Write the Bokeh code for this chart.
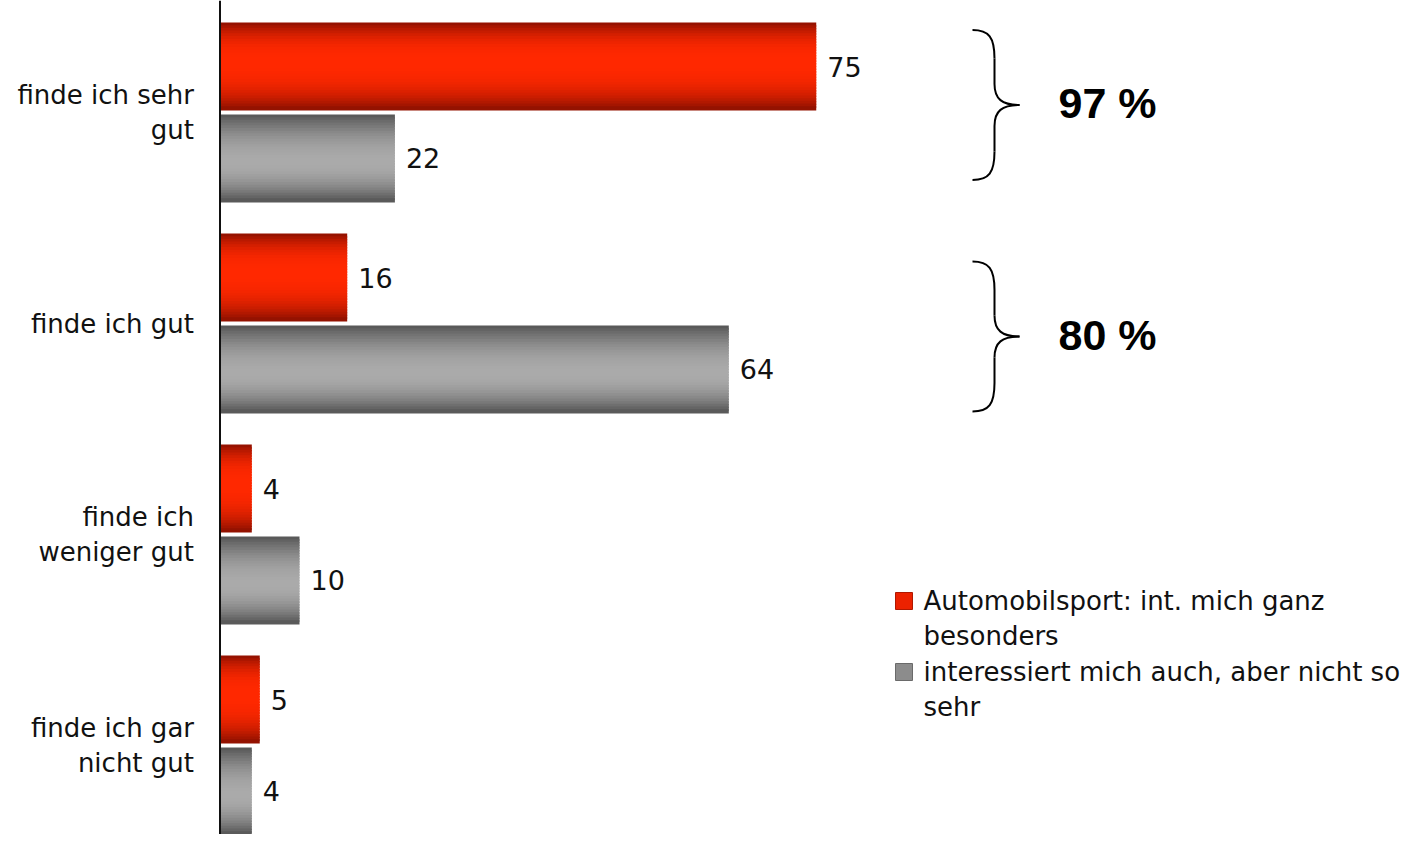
from bokeh.plotting import figure
from bokeh.models import Range1d, Span, ColumnDataSource
from bokeh.embed import file_html
from bokeh.resources import INLINE
from bokeh.core.properties import value

# ---------------- data ----------------
categories = ["finde ich sehr\ngut", "finde ich gut", "finde ich\nweniger gut", "finde ich gar\nnicht gut"]
series_names = ["Automobilsport: int. mich ganz\nbesonders", "interessiert mich auch, aber nicht so\nsehr"]
red_values = [75, 16, 4, 5]
gray_values = [22, 64, 10, 4]
brace_labels = ["97 %", "80 %"]

# ---------------- layout helpers ----------------
W, H = 1400, 834
PX_PER_UNIT = 7.95
X0_PAGE = 219.5      # pixel x of value 0
GROUP_PX = 211.0     # pixels between category groups
Y0_PAGE = 112.0      # pixel y of first group centre


def xd(px):
    return (px - X0_PAGE) / PX_PER_UNIT


def yd(py):
    return (py - Y0_PAGE) / GROUP_PX


p = figure(width=W, height=H,
           x_range=Range1d(xd(0), xd(W)),
           y_range=Range1d(yd(H), yd(0)),
           output_backend="svg", toolbar_location=None,
           min_border=0, min_border_left=0, min_border_right=0,
           min_border_top=0, min_border_bottom=0)
p.xaxis.visible = False
p.yaxis.visible = False
p.xgrid.visible = False
p.ygrid.visible = False
p.outline_line_color = None
p.background_fill_color = "white"
p.border_fill_color = "white"

BAR_H = 0.41
OFFSET = 0.218
N = 32


def mix(c1, c2, w):
    return "#%02x%02x%02x" % tuple(int(round(a + (b - a) * w)) for a, b in zip(c1, c2))


def strips(values, offset, dark, light, peak, expo):
    ys, rights, cols = [], [], []
    for i, v in enumerate(values):
        for k in range(N):
            t = (k + 0.5) / N
            d = (t - peak) / (peak if t < peak else 1 - peak)
            w = 1 - abs(d) ** expo
            ys.append(i + offset - BAR_H / 2 + t * BAR_H)
            rights.append(v)
            cols.append(mix(dark, light, w))
    return ColumnDataSource(dict(y=ys, right=rights, color=cols))


red_src = strips(red_values, -OFFSET, (140, 16, 0), (255, 40, 0), 0.45, 2.6)
gray_src = strips(gray_values, OFFSET, (84, 84, 84), (170, 170, 170), 0.55, 2.0)
for src in (red_src, gray_src):
    p.hbar(y="y", left=0, right="right", height=BAR_H / N * 1.6, fill_color="color",
           line_color=None, source=src)

# axis line
p.add_layout(Span(location=0, dimension="height", line_color="#111111", line_width=2))

# value labels
idx = list(range(len(categories)))
p.text(x=red_values, y=[i - OFFSET for i in idx], text=[str(v) for v in red_values],
       x_offset=11, text_baseline="middle", text_align="left",
       text_font=value("DejaVu Sans"), text_font_size="27px", text_color="#111111")
p.text(x=gray_values, y=[i + OFFSET for i in idx], text=[str(v) for v in gray_values],
       x_offset=11, text_baseline="middle", text_align="left",
       text_font=value("DejaVu Sans"), text_font_size="27px", text_color="#111111")

# category labels
p.text(x=[0] * len(categories), y=idx, text=categories, x_offset=-26,
       text_align="right", text_baseline="middle", text_line_height=1.15,
       text_font=value("DejaVu Sans"), text_font_size="26px", text_color="#111111")

# braces
brace_centres = [yd(104.5), yd(336.0)]
brace_half = 75.0 / GROUP_PX
bx0, bxs, bxt = xd(972), xd(994), xd(1019)
bez = dict(x0=[], y0=[], x1=[], y1=[], cx0=[], cy0=[], cx1=[], cy1=[])


def add_bez(a, c0, c1, b):
    bez["x0"].append(a[0]); bez["y0"].append(a[1])
    bez["cx0"].append(c0[0]); bez["cy0"].append(c0[1])
    bez["cx1"].append(c1[0]); bez["cy1"].append(c1[1])
    bez["x1"].append(b[0]); bez["y1"].append(b[1])


for yc in brace_centres:
    Hh = 2 * brace_half
    for sgn in (-1, 1):
        ya = yc + sgn * brace_half
        s1 = ya - sgn * 0.19 * Hh
        s2 = yc + sgn * 0.14 * Hh
        add_bez((bx0, ya), (bx0 + (bxs - bx0) * 0.75, ya), (bxs, ya - sgn * 0.05 * Hh), (bxs, s1))
        add_bez((bxs, s1), (bxs, s1), (bxs, s2), (bxs, s2))
        add_bez((bxs, s2), (bxs, yc + sgn * 0.04 * Hh), (bxs + (bxt - bxs) * 0.3, yc), (bxt, yc))

p.bezier(x0="x0", y0="y0", x1="x1", y1="y1", cx0="cx0", cy0="cy0", cx1="cx1", cy1="cy1",
         source=ColumnDataSource(bez), line_color="black", line_width=2)

p.text(x=[xd(1058)] * 2, y=[c - 2 / GROUP_PX for c in brace_centres], text=brace_labels,
       text_baseline="middle", text_align="left",
       text_font=value("Liberation Sans"), text_font_style="bold",
       text_font_size="43px", text_color="black")

# legend
p.scatter(x=[xd(903.5)] * 2, y=[yd(600.5), yd(671.5)], marker="square", size=17,
          fill_color=["#ec2200", "#8c8c8c"], line_color=["#b01800", "#6a6a6a"], line_width=1)
p.text(x=[xd(923)] * 2, y=[yd(618), yd(689)], text=series_names,
       text_baseline="middle", text_align="left", text_line_height=1.15,
       text_font=value("DejaVu Sans"), text_font_size="26px", text_color="#111111")

open("out.html", "w").write(file_html(p, INLINE))
